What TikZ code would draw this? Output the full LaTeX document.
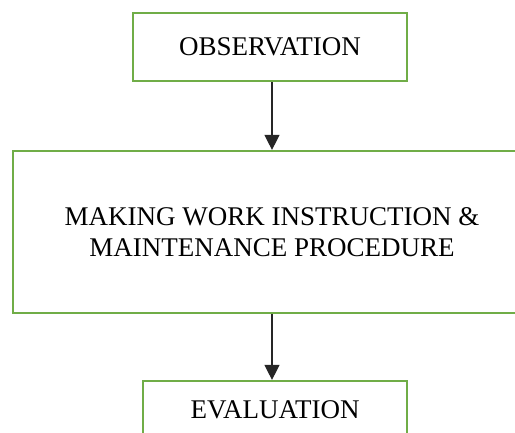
\documentclass[tikz,border=0pt]{standalone}
\usepackage{fontspec}
\setmainfont{Liberation Serif}
\usetikzlibrary{arrows.meta}
\definecolor{boxgreen}{HTML}{70AD47}
\tikzset{
  flowbox/.style={draw=boxgreen, line width=2.2pt, fill=white, inner sep=0pt,
    font=\fontsize{27}{31}\selectfont, align=center},
  flowarrow/.style={draw=black!85, line width=1.3pt,
    -{Triangle[length=15pt,width=15pt]}}
}
\begin{document}
\begin{tikzpicture}[x=1pt,y=-1pt]
\useasboundingbox (0,0) rectangle (515,432);
\clip (0,0) rectangle (515,432);
\node[flowbox, minimum width=274pt, minimum height=68pt] (obs) at (270,47) {OBSERVATION};
\node[flowbox, minimum width=518pt, minimum height=162pt] (mwi) at (272,232) {MAKING WORK INSTRUCTION \&\\MAINTENANCE PROCEDURE};
\node[flowbox, minimum width=264pt, minimum height=58pt] (eva) at (275,410) {EVALUATION};
\draw[flowarrow] (obs.south -| mwi.north) -- (mwi.north);
\draw[flowarrow] (mwi.south) -- (mwi.south |- eva.north);
\end{tikzpicture}
\end{document}
